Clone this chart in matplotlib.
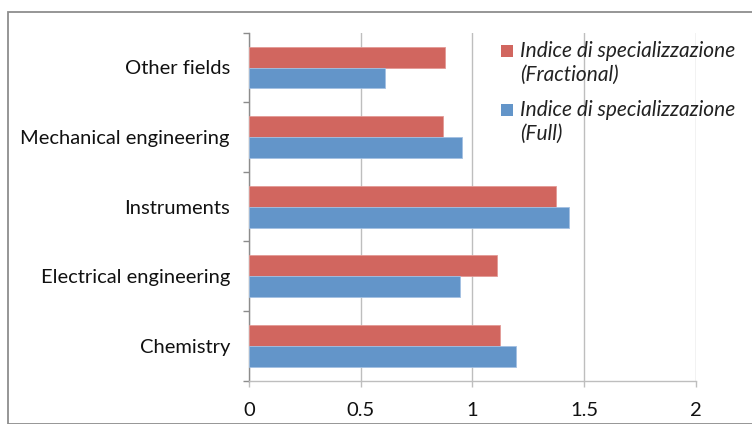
import matplotlib
matplotlib.use("Agg")
import matplotlib.pyplot as plt
from matplotlib.patches import Rectangle

categories = ["Chemistry", "Electrical engineering", "Instruments",
              "Mechanical engineering", "Other fields"]
fractional = [1.124, 1.109, 1.373, 0.868, 0.877]
full = [1.197, 0.946, 1.432, 0.955, 0.608]
legend_labels = ["Indice di specializzazione\n(Fractional)",
                 "Indice di specializzazione\n(Full)"]
xticks = [0, 0.5, 1, 1.5, 2]

RED = "#D1665F"
BLUE = "#6395C9"
W, H = 752, 424

plt.rcParams['font.family'] = ['Lato', 'DejaVu Sans']

fig = plt.figure(figsize=(W / 100, H / 100), dpi=100)

def fx(px):
    return px / W

def fy(py):
    return 1 - py / H

# plot area in pixels: x 249.4..695.5, y 32.7..380.7
ax = fig.add_axes([fx(249.4), fy(380.7), (695.5 - 249.4) / W, (380.7 - 32.7) / H])

ypos = list(range(len(categories)))
h = 0.3
ax.barh([y + h / 2 for y in ypos], fractional, height=h, color=RED,
        edgecolor="#E39A95", linewidth=0.6, zorder=3)
ax.barh([y - h / 2 for y in ypos], full, height=h, color=BLUE,
        edgecolor="#A3C0E2", linewidth=0.6, zorder=3)

ax.set_xlim(0, 2)
ax.set_ylim(-0.5, len(categories) - 0.5)
ax.set_xticks(xticks)
ax.set_xticklabels(["0", "0.5", "1", "1.5", "2"])
ax.set_yticks(ypos)
ax.set_yticklabels(categories)
ax.set_yticks([y - 0.5 for y in range(len(categories) + 1)], minor=True)

ax.tick_params(axis="y", which="major", length=0, pad=14, labelsize=14.5, colors="#111111")
ax.tick_params(axis="y", which="minor", length=4.5, width=1, color="#8C8C8C", direction="out")
ax.tick_params(axis="x", which="major", length=4.5, width=1, color="#BEBEBE",
               pad=11, labelsize=14.5, labelcolor="#111111")

ax.grid(axis="x", color="#BEBEBE", linewidth=1, zorder=0)
for s in ["top", "right"]:
    ax.spines[s].set_visible(False)
ax.spines["left"].set_color("#8C8C8C")
ax.spines["left"].set_linewidth(1)
ax.spines["bottom"].set_color("#BEBEBE")
ax.spines["bottom"].set_linewidth(1)

# legend drawn by hand so the square sits on the first line
leg_colors = [RED, BLUE]
leg_tops = [45, 104]
for lab, col, top in zip(legend_labels, leg_colors, leg_tops):
    fig.patches.append(Rectangle((fx(501), fy(top + 11.7)), 11.7 / W, 11.7 / H,
                                 transform=fig.transFigure, facecolor=col,
                                 edgecolor="none"))
    for k, line in enumerate(lab.split("\n")):
        fig.text(fx(520), fy(top + 12.3 + k * 23.5), line, ha="left", va="baseline",
                 fontsize=15, style="italic", color="#222222")

# outer chart border
fig.patches.append(Rectangle((fx(7.5), 0), 1, fy(11.5), transform=fig.transFigure,
                             facecolor="none", edgecolor="#8E8E8E", linewidth=1.3))

fig.savefig("out.png", dpi=100)
